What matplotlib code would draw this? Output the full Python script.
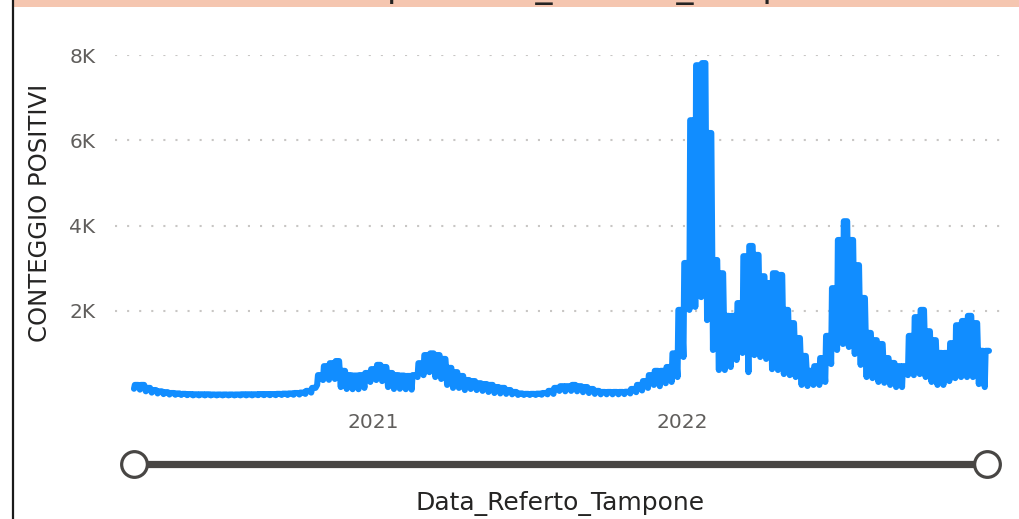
import matplotlib
matplotlib.use("Agg")
import matplotlib.pyplot as plt
import numpy as np
import pandas as pd
from matplotlib.patches import Rectangle

# weekly readings: weekday level and weekend trough
FIRST_WEEK = "2020-03-23"
weekly_high = [
    260, 260, 190, 140, 110, 90, 70, 60, 50, 45,
    40, 40, 40, 35, 35, 35, 35, 35, 40, 40,
    40, 45, 45, 45, 50, 55, 60, 70, 80, 120,
    190, 490, 700, 770, 820, 590, 490, 480, 490, 540,
    630, 730, 680, 540, 490, 480, 470, 490, 770, 960,
    1000, 960, 870, 660, 560, 470, 375, 350, 300, 280,
    260, 210, 190, 140, 95, 60, 50, 50, 55, 70,
    120, 190, 230, 230, 260, 230, 210, 165, 120, 95,
    95, 95, 95, 100, 165, 260, 350, 490, 590, 590,
    680, 1000, 2020, 3120, 6470, 7760, 7810, 6170, 3190, 2880,
    1880, 1880, 2180, 3280, 3520, 3310, 2810, 2650, 2880, 2840,
    2020, 1710, 1360, 940, 590, 700, 890, 1410, 2530, 3660,
    4100, 3660, 3070, 2300, 1480, 1310, 1220, 890, 775, 700,
    700, 1410, 1850, 2020, 1520, 1310, 1010, 1010, 1240, 1660,
    1760, 1880, 1710, 1060, 1060,
]
weekly_low = [
    170, 150, 110, 80, 60, 45, 35, 30, 25, 20,
    15, 15, 15, 15, 15, 15, 15, 15, 15, 15,
    15, 20, 20, 20, 20, 25, 25, 30, 35, 50,
    80, 260, 375, 380, 400, 210, 165, 160, 160, 190,
    330, 375, 350, 210, 165, 170, 160, 150, 445, 490,
    560, 445, 400, 260, 190, 190, 140, 165, 140, 120,
    95, 70, 60, 50, 40, 25, 25, 25, 25, 30,
    40, 50, 120, 110, 120, 110, 90, 70, 50, 40,
    40, 40, 40, 45, 60, 90, 130, 190, 260, 230,
    300, 330, 445, 915, 2020, 2090, 2320, 1780, 1080, 610,
    610, 680, 845, 1010, 560, 960, 915, 870, 630, 610,
    515, 490, 445, 260, 235, 260, 260, 330, 750, 1080,
    1220, 1150, 985, 730, 445, 420, 330, 310, 260, 210,
    210, 490, 490, 515, 445, 330, 260, 260, 350, 420,
    445, 445, 445, 280, 210,
]
y_ticks = [2000, 4000, 6000, 8000]
y_tick_labels = ["2K", "4K", "6K", "8K"]
x_ticks = ["2021-01-01", "2022-01-01"]
x_tick_labels = ["2021", "2022"]

BLUE = "#118DFF"
GRAY = "#605E5C"
DARK = "#252423"

# Monday trough, then the weekday level held Tuesday..Saturday
weeks = pd.date_range(FIRST_WEEK, periods=len(weekly_high), freq="7D")
dates = []
values = []
for w, lo, hi in zip(weeks, weekly_low, weekly_high):
    dates += [w, w + pd.Timedelta(days=1), w + pd.Timedelta(days=5)]
    values += [lo, hi, hi]

W, H = 1019, 519
fig = plt.figure(figsize=(W / 100, H / 100), dpi=100)

# overlay in pixel coords for the report chrome (title band, border, slider)
deco = fig.add_axes([0, 0, 1, 1], zorder=0)
deco.set_xlim(0, W)
deco.set_ylim(H, 0)
deco.axis("off")
deco.add_patch(Rectangle((13, 0), W - 13, 7, color="#F5C6B0", lw=0))
deco.plot([13, 13], [0, H], color="#1a1a1a", lw=1.6)
deco.text(15, -3, "CONTEGGIO POSITIVI per Data_Referto_Tampone",
          fontsize=24.5, color=DARK, va="baseline", ha="left")
deco.plot([134, 987], [464, 464], color="#484644", lw=5.2,
          solid_capstyle="butt")
deco.plot([134, 987], [464, 464], "o", ms=18.5, mfc="white",
          mec="#484644", mew=2.3)
deco.text(560, 503, "Data_Referto_Tampone", fontsize=18, color=DARK,
          ha="center", va="center")
deco.text(40, 213, "CONTEGGIO POSITIVI", fontsize=17.5, color=DARK,
          ha="center", va="center", rotation=90)

# main chart; 0 sits at y=396px, 8K at y=55px, x from 115px to 1005px
left, right = 115 / W, 1005 / W
bottom, top = (H - 396) / H, (H - 55) / H
ax = fig.add_axes([left, bottom, right - left, top - bottom], zorder=1)
ax.patch.set_alpha(0)

start = pd.Timestamp(FIRST_WEEK)
px_per_day = 0.844
ax.set_xlim(start - pd.Timedelta(days=(134 - 115) / px_per_day),
            start + pd.Timedelta(days=(1005 - 134) / px_per_day))
ax.set_ylim(0, 8000)

ax.plot(dates, values, color=BLUE, lw=4.4, solid_joinstyle="round",
        solid_capstyle="round", clip_on=False)

ax.set_yticks(y_ticks)
ax.set_yticklabels(y_tick_labels)
ax.set_xticks(pd.to_datetime(x_ticks))
ax.set_xticklabels(x_tick_labels)
ax.tick_params(length=0, labelsize=14.5, labelcolor=GRAY)
ax.tick_params(axis="y", pad=14)
ax.tick_params(axis="x", pad=12)
ax.grid(axis="y", color="#C8C6C4", lw=1.5, linestyle=(0, (1, 4.8)))
ax.set_axisbelow(True)
for s in ax.spines.values():
    s.set_visible(False)

fig.savefig("out.png", dpi=100)
